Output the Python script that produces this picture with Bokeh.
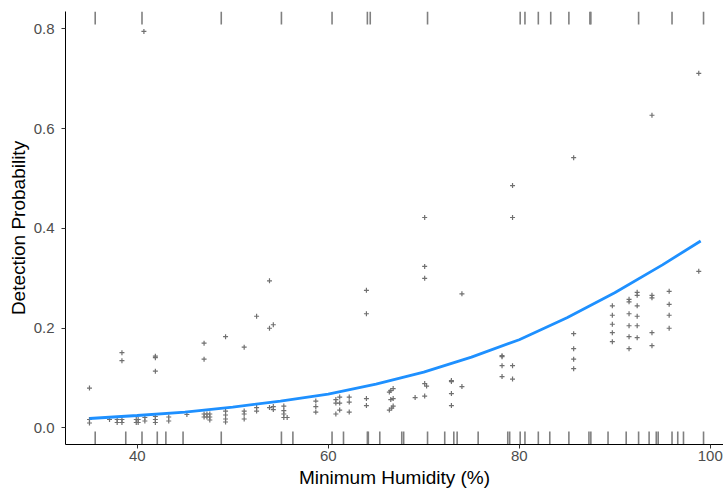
from bokeh.plotting import figure
from bokeh.models import Range1d, FixedTicker, PrintfTickFormatter
from bokeh.embed import file_html
from bokeh.resources import INLINE

# fitted detection probability curve
curve_x = [35, 40, 45, 50, 55, 60, 65, 70, 75, 80, 85, 90, 95, 99]
curve_y = [0.019, 0.025, 0.032, 0.042, 0.054, 0.068, 0.088, 0.112, 0.142, 0.177, 0.221, 0.271, 0.327, 0.375]

# scattered "+" points
pts_x = [35.0, 35.0, 35.0, 37.1, 37.9, 37.9, 38.4, 38.4, 38.4, 38.4, 39.9, 39.9, 40.1, 40.1,
         40.7, 40.8, 40.8, 41.9, 41.9, 41.9, 41.9, 41.9, 41.9, 43.3, 43.3, 45.2,
         47.0, 47.0, 47.0, 47.0, 47.3, 47.3, 47.6, 47.6, 47.6,
         49.25, 49.25, 49.25, 49.25, 49.25, 51.2, 51.2, 51.2, 51.2, 52.5, 52.5, 52.5,
         53.85, 53.85, 53.85, 54.25, 54.25, 54.25, 55.35, 55.35, 55.35, 55.35, 55.7,
         58.7, 58.7, 58.7, 60.8, 60.8, 60.8, 61.2, 61.2, 61.2, 62.2, 62.2, 62.2,
         64.0, 64.0, 64.0, 64.0, 66.4, 66.55, 66.8, 66.55, 66.8, 66.4, 66.65, 66.8,
         69.1, 70.1, 70.1, 70.1, 70.1, 70.3, 70.1, 72.9, 72.9, 72.9, 72.9, 74.0, 74.0,
         78.2, 78.2, 78.2, 78.2, 79.3, 79.3, 79.3, 79.3, 85.7, 85.7, 85.7, 85.7, 85.7,
         89.75, 89.75, 89.75, 89.75, 89.75, 91.5, 91.5, 91.5, 91.5, 91.5, 91.5,
         92.35, 92.35, 92.35, 92.35, 92.35, 92.35, 93.9, 93.9, 93.9, 93.9, 93.9,
         95.7, 95.7, 95.7, 95.7, 98.8, 98.8]
pts_y = [0.080, 0.017, 0.010, 0.017, 0.017, 0.011, 0.017, 0.011, 0.151, 0.135, 0.017, 0.011, 0.017, 0.011,
         0.795, 0.021, 0.014, 0.144, 0.141, 0.114, 0.023, 0.017, 0.011, 0.022, 0.014, 0.027,
         0.170, 0.138, 0.028, 0.022, 0.028, 0.022, 0.028, 0.022, 0.016,
         0.183, 0.034, 0.026, 0.018, 0.012, 0.162, 0.034, 0.028, 0.018, 0.224, 0.041, 0.034,
         0.295, 0.200, 0.041, 0.207, 0.043, 0.037, 0.044, 0.035, 0.028, 0.021, 0.021,
         0.054, 0.043, 0.032, 0.057, 0.050, 0.028, 0.062, 0.050, 0.036, 0.062, 0.052, 0.032,
         0.276, 0.229, 0.059, 0.045, 0.072, 0.075, 0.079, 0.057, 0.059, 0.036, 0.040, 0.044,
         0.061, 0.422, 0.324, 0.300, 0.089, 0.084, 0.064, 0.095, 0.093, 0.069, 0.045, 0.269, 0.083,
         0.145, 0.143, 0.125, 0.103, 0.486, 0.422, 0.125, 0.098, 0.542, 0.189, 0.159, 0.138, 0.119,
         0.245, 0.226, 0.208, 0.191, 0.173, 0.258, 0.253, 0.229, 0.205, 0.183, 0.159,
         0.272, 0.266, 0.245, 0.224, 0.205, 0.181, 0.627, 0.266, 0.261, 0.191, 0.165,
         0.274, 0.248, 0.226, 0.200, 0.711, 0.314]

# rug marks: humidity at detections (top) and non-detections (bottom)
rug_detected = [35.6, 40.5, 48.8, 55.1, 60.4, 64.1, 64.4, 70.4, 80.1, 80.6, 82.0, 83.3,
                85.2, 87.4, 87.5, 92.5, 96.0, 99.3]
rug_absent = [35.6, 38.8, 40.5, 42.1, 43.0, 44.8, 48.8, 55.1, 56.3, 60.4, 61.6, 64.1, 64.2,
              65.4, 67.7, 67.9, 70.4, 72.2, 73.15, 73.5, 75.7, 78.8, 79.0, 80.1, 80.6, 82.0,
              83.2, 85.2, 87.3, 87.5, 89.3, 91.2, 92.5, 93.6, 94.35, 94.55, 96.0, 96.6, 97.2, 99.3]

x_ticks = [40, 60, 80, 100]
y_ticks = [0.0, 0.2, 0.4, 0.6, 0.8]
x_title = "Minimum Humidity (%)"
y_title = "Detection Probability"

X0, X1 = 32.49, 101.39
Y0, Y1 = -0.0331, 0.835

p = figure(width=723, height=493, output_backend="svg", toolbar_location=None,
           x_range=Range1d(X0, X1), y_range=Range1d(Y0, Y1),
           min_border_top=11, min_border_right=0, min_border_left=65, min_border_bottom=49)
p.outline_line_color = None
p.grid.visible = False
p.background_fill_color = "white"

FONT = "Liberation Sans"
for ax in (p.xaxis[0], p.yaxis[0]):
    ax.axis_line_color = "black"
    ax.axis_line_width = 1
    ax.major_tick_line_color = "#333333"
    ax.major_tick_out = 4
    ax.major_tick_in = 0
    ax.minor_tick_line_color = None
    ax.major_label_text_font = FONT
    ax.major_label_text_font_size = "15px"
    ax.major_label_text_color = "#4D4D4D"
    ax.axis_label_text_font = FONT
    ax.axis_label_text_font_size = "19px"
    ax.axis_label_text_font_style = "normal"
    ax.axis_label_text_color = "black"

p.xaxis.major_label_standoff = 2
p.xaxis.axis_label_standoff = 3
p.yaxis.major_label_standoff = 7
p.yaxis.axis_label_standoff = 2

p.xaxis.ticker = FixedTicker(ticks=x_ticks)
p.yaxis.ticker = FixedTicker(ticks=y_ticks)
p.yaxis.formatter = PrintfTickFormatter(format="%.1f")
p.xaxis.axis_label = x_title
p.yaxis.axis_label = y_title

rug_len = 0.03 * (Y1 - Y0)
RUG = "#808080"
p.segment(x0=rug_absent, x1=rug_absent, y0=[Y0] * len(rug_absent),
          y1=[Y0 + rug_len] * len(rug_absent), line_color=RUG, line_width=1.6)
p.segment(x0=rug_detected, x1=rug_detected, y0=[Y1 - rug_len] * len(rug_detected),
          y1=[Y1] * len(rug_detected), line_color=RUG, line_width=1.6)

p.scatter(pts_x, pts_y, marker="cross", size=5, line_color="#707070", line_width=1.2)
p.line(curve_x, curve_y, line_color="#1E90FF", line_width=2.8)

open("out.html", "w").write(file_html(p, INLINE))
